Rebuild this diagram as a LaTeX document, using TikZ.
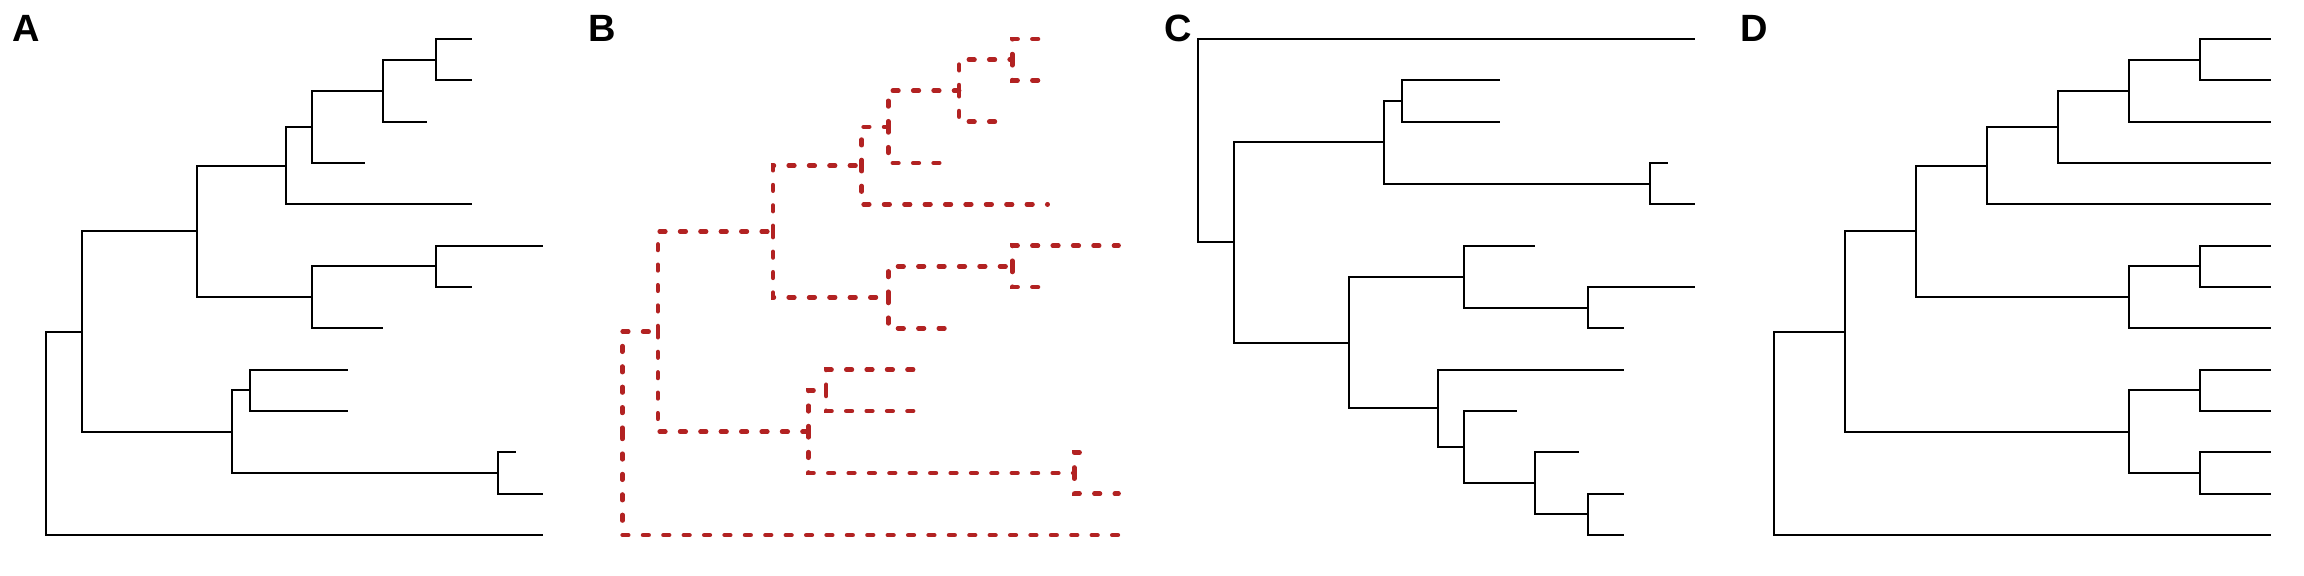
\documentclass[tikz,border=0pt]{standalone}
\usepackage{fontspec}
\setmainfont{Liberation Sans}
\definecolor{treered}{RGB}{178,34,34}
\tikzset{
  branch/.style={line width=1pt},
  dashbranch/.style={treered, line width=2.3pt, line cap=round, dash pattern=on 2.8pt off 7.4pt},
  panel label/.style={font=\fontsize{19}{19}\selectfont\bfseries, inner sep=0pt},
  panel/.style={shift={(#1,-19.5pt)}, x=4.43pt, y=-20.67pt}
}
% tree of A and B : name/depth/row
\newcommand\nodesAB{t0/48/0, t1/48/1, t2/43/2, t3/36/3, t4/48/4, t5/56/5, t6/48/6,
  t7/38/7, t8/34/8, t9/34/9, t10/53/10, t11/56/11, t12/56/12,
  n1/44/0.5, n2/38/1.25, n3/30/2.125, n4/27/3.0625, n5/44/5.5, n6/30/6.25,
  n7/17/4.65625, n8/23/8.5, n9/51/10.5, n10/21/9.5, n11/4/7.078125, root/0/9.5390625}
\newcommand\edgesAD{root/n11, root/t12, n11/n7, n11/n10, n7/n4, n7/n6, n4/n3, n4/t4,
  n3/n2, n3/t3, n2/n1, n2/t2, n1/t0, n1/t1, n6/n5, n6/t7, n5/t5, n5/t6,
  n10/n8, n10/n9, n8/t8, n8/t9, n9/t10, n9/t11}
% tree of C
\newcommand\nodesC{t0/56/0, t1/34/1, t2/34/2, t3/53/3, t4/56/4, t5/38/5, t6/56/6,
  t7/48/7, t8/48/8, t9/36/9, t10/43/10, t11/48/11, t12/48/12,
  n1/23/1.5, n2/51/3.5, n3/21/2.5, n4/44/6.5, n5/30/5.75, n6/44/11.5,
  n7/38/10.75, n8/30/9.875, n9/27/8.9375, n10/17/7.34375, n11/4/4.921875, root/0/2.4609375}
\newcommand\edgesC{root/t0, root/n11, n11/n3, n11/n10, n3/n1, n3/n2, n1/t1, n1/t2,
  n2/t3, n2/t4, n10/n5, n10/n9, n5/t5, n5/n4, n4/t6, n4/t7, n9/t8, n9/n8,
  n8/t9, n8/n7, n7/t10, n7/n6, n6/t11, n6/t12}
% tree of D (all tips at 56)
\newcommand\nodesD{n1/48/0.5, n2/40/1.25, n3/32/2.125, n4/24/3.0625, n5/48/5.5, n6/40/6.25,
  n7/16/4.65625, n8/48/8.5, n9/48/10.5, n10/40/9.5, n11/8/7.078125, root/0/9.5390625}
\begin{document}
\begin{tikzpicture}
  \useasboundingbox (0,0) rectangle (1152pt,-288pt);
  % A
  \begin{scope}[panel=23.2pt]
    \node[panel label] (labA) at (-2.25,-0.25) {A};
    \foreach \n/\x/\y in \nodesAB \coordinate (A\n) at (\x,\y);
    \foreach \p/\c in \edgesAD \draw[branch] (A\p) |- (A\c);
  \end{scope}
  % B
  \begin{scope}[panel=311.2pt]
    \node[panel label] (labB) at (-2.25,-0.25) {B};
    \foreach \n/\x/\y in \nodesAB \coordinate (B\n) at (\x,\y);
    \foreach \p/\c in \edgesAD \draw[dashbranch] (B\p) |- (B\c);
  \end{scope}
  % C
  \begin{scope}[panel=599.2pt]
    \node[panel label] (labC) at (-2.25,-0.25) {C};
    \foreach \n/\x/\y in \nodesC \coordinate (C\n) at (\x,\y);
    \foreach \p/\c in \edgesC \draw[branch] (C\p) |- (C\c);
  \end{scope}
  % D
  \begin{scope}[panel=887.2pt]
    \node[panel label] (labD) at (-2.25,-0.25) {D};
    \foreach \i in {0,...,12} \coordinate (Dt\i) at (56,\i);
    \foreach \n/\x/\y in \nodesD \coordinate (D\n) at (\x,\y);
    \foreach \p/\c in \edgesAD \draw[branch] (D\p) |- (D\c);
  \end{scope}
\end{tikzpicture}
\end{document}
